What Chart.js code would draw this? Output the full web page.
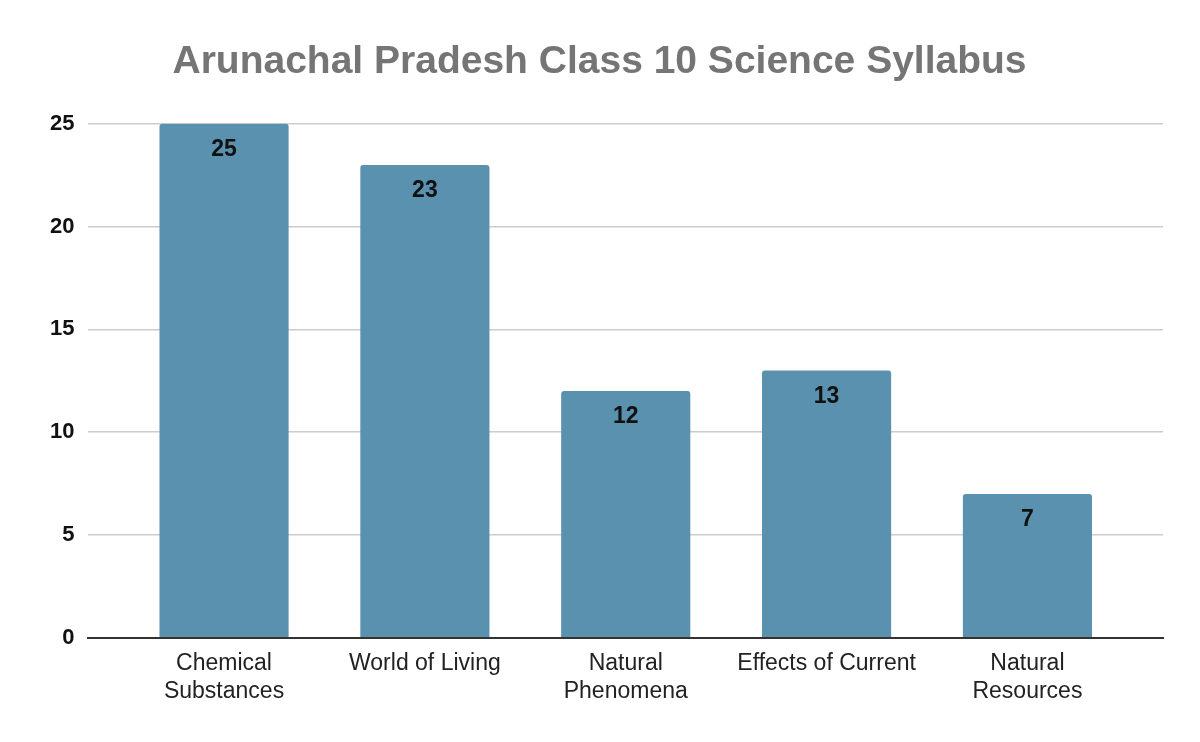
<!DOCTYPE html>
<html>
<head>
<meta charset="utf-8">
<script src="https://cdn.jsdelivr.net/npm/chart.js@4/dist/chart.umd.min.js"></script>
<style>
  html, body { margin: 0; padding: 0; background: #fff; }
  #wrap { width: 1200px; height: 742px; }
</style>
</head>
<body>
<div id="wrap"><canvas id="chart" width="1200" height="742"></canvas></div>
<script>
// --- data ---
const categories = [
  ['Chemical', 'Substances'],
  'World of Living',
  ['Natural', 'Phenomena'],
  'Effects of Current',
  ['Natural', 'Resources']
];
const topicCounts = [25, 23, 12, 13, 7];
const yTicks = [0, 5, 10, 15, 20, 25];

const FONT = '"Liberation Sans", Arial, sans-serif';

// draws the value near the top of every bar
const barLabels = {
  id: 'barLabels',
  afterDatasetsDraw(chart) {
    const ctx = chart.ctx;
    const meta = chart.getDatasetMeta(0);
    ctx.save();
    ctx.font = 'bold 23px ' + FONT;
    ctx.fillStyle = '#111';
    ctx.textAlign = 'center';
    ctx.textBaseline = 'middle';
    meta.data.forEach((bar, i) => {
      ctx.fillText(String(topicCounts[i]), bar.x, bar.y + 26);
    });
    ctx.restore();
  }
};

new Chart(document.getElementById('chart'), {
  type: 'bar',
  data: {
    datasets: [{
      data: topicCounts.map((v, i) => ({ x: i, y: v })),
      backgroundColor: '#5991af',
      borderRadius: { topLeft: 3, topRight: 3, bottomLeft: 0, bottomRight: 0 },
      borderSkipped: false,
      categoryPercentage: 0.643,
      barPercentage: 1
    }]
  },
  options: {
    responsive: false,
    animation: false,
    layout: { padding: { left: 36, right: 37, top: 18, bottom: 33 } },
    plugins: {
      legend: { display: false },
      tooltip: { enabled: false },
      title: {
        display: true,
        text: 'Arunachal Pradesh Class 10 Science Syllabus',
        color: '#757575',
        font: { family: FONT, size: 39, weight: 'bold' },
        padding: { top: 21, bottom: 38 }
      }
    },
    scales: {
      x: {
        type: 'linear',
        offset: false,
        min: -0.675,
        max: 4.675,
        afterBuildTicks(scale) {
          scale.ticks = categories.map((c, i) => ({ value: i }));
        },
        grid: { display: false },
        border: { display: true, color: '#333', width: 2 },
        ticks: {
          color: '#222',
          font: { family: FONT, size: 23 },
          padding: 4,
          maxRotation: 0,
          autoSkip: false,
          callback: v => categories[v]
        }
      },
      y: {
        min: 0,
        max: 25,
        afterBuildTicks(scale) {
          scale.ticks = yTicks.map(v => ({ value: v }));
        },
        border: { display: false },
        grid: {
          color: ctx => ctx.tick && ctx.tick.value === 0 ? 'rgba(0,0,0,0)' : '#cccccc',
          lineWidth: 1.5,
          drawTicks: false
        },
        ticks: {
          color: '#111',
          font: { family: FONT, size: 22, weight: 'bold' },
          padding: 14
        }
      }
    }
  },
  plugins: [barLabels]
});
</script>
</body>
</html>
